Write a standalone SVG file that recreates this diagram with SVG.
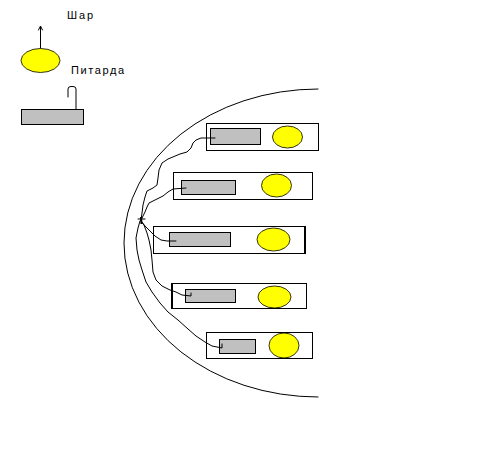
<svg xmlns="http://www.w3.org/2000/svg" width="497" height="454" viewBox="0 0 497 454">
<style>
.box{fill:#fff;stroke:#000;stroke-width:1}
.pet{fill:#c0c0c0;stroke:#000;stroke-width:1}
.ball{fill:#ffff00;stroke:#000;stroke-width:0.8}
.wire{fill:none;stroke:#000;stroke-width:1;stroke-linejoin:round;stroke-linecap:round}
.lbl{font-family:"Liberation Sans",Arial,sans-serif;font-size:11px;fill:#000}
</style>
<rect width="497" height="454" fill="#fff"/>
<g id="legend-ball">
<ellipse class="ball" cx="40.5" cy="60.5" rx="19.5" ry="12"/>
<line class="wire" x1="40.5" y1="48" x2="40.5" y2="27"/>
<polyline class="wire" points="38.5,30 40.5,26 42.5,30"/>
<text class="lbl" x="67" y="19" textLength="26" lengthAdjust="spacing">Шар</text>
</g>
<g id="legend-petard">
<rect class="pet" x="21.5" y="109.5" width="62" height="15"/>
<path class="wire" d="M68,97 L68,89 Q68,86.5 71,86.5 L73,86.5 Q76,86.5 76,89 L76,109"/>
<text class="lbl" x="71" y="74" textLength="53" lengthAdjust="spacing">Питарда</text>
</g>
<g id="arc">
<path class="wire" d="M318,89 A194,154 0 0 0 318,397"/>
</g>
<g id="box1">
<rect class="box" x="206.5" y="123.5" width="112" height="27"/>
<rect class="pet" x="210.5" y="128.5" width="50" height="16"/>
<ellipse class="ball" cx="287.5" cy="137" rx="15" ry="11"/>
</g>
<g id="box2">
<rect class="box" x="173.5" y="172.5" width="139" height="27"/>
<rect class="pet" x="181.5" y="180.5" width="54" height="14"/>
<ellipse class="ball" cx="276.5" cy="185.5" rx="15" ry="11.5"/>
</g>
<g id="box3">
<rect class="box" x="153.5" y="226.5" width="151" height="27"/>
<line x1="305" y1="226" x2="305" y2="254" stroke="#000" stroke-width="2"/>
<rect class="pet" x="169.5" y="232.5" width="61" height="14"/>
<ellipse class="ball" cx="273.5" cy="239.5" rx="16.5" ry="11.5"/>
</g>
<g id="box4">
<rect class="box" x="172.5" y="283.5" width="134" height="25"/>
<line x1="172" y1="283" x2="172" y2="309" stroke="#000" stroke-width="2"/>
<rect class="pet" x="185.5" y="289.5" width="50" height="13"/>
<ellipse class="ball" cx="274.5" cy="297" rx="16.5" ry="11"/>
</g>
<g id="box5">
<rect class="box" x="206.5" y="332.5" width="106" height="26"/>
<rect class="pet" x="219.5" y="339.5" width="36" height="14"/>
<ellipse class="ball" cx="284" cy="345.5" rx="15" ry="12.5"/>
</g>
<g id="connectors">
<polyline class="wire" points="141,220 142,213 143,205 145,197 147,191 153,188 157,185 158,178 159,170 162,163 168,159 180,154 187,152 191,148 193,143 196,140 201,138 215,138"/>
<polyline class="wire" points="141,220 143,216 145,212 147,207 149,203 155,200 163,196 168,192 173,189 186,188"/>
<polyline class="wire" points="141,221 145,226 150,231 155,236 161,240 167,241 176,241"/>
<polyline class="wire" points="141,221 144,225 147,233 149,240 151,250 152,260 153,272 156,280 162,286 170,290 176,292 182,295 191,296 191,293"/>
<polyline class="wire" points="140,221 138,228 136,238 137,250 139,260 142,270 146,282 152,292 160,303 168,312 178,320 188,329 196,336 205,342 212,346 222,348 222,344"/>
<line class="wire" x1="138" y1="219" x2="145" y2="219"/>
<line x1="141" y1="217" x2="141.5" y2="224" stroke="#000" stroke-width="2"/>
</g>
</svg>
